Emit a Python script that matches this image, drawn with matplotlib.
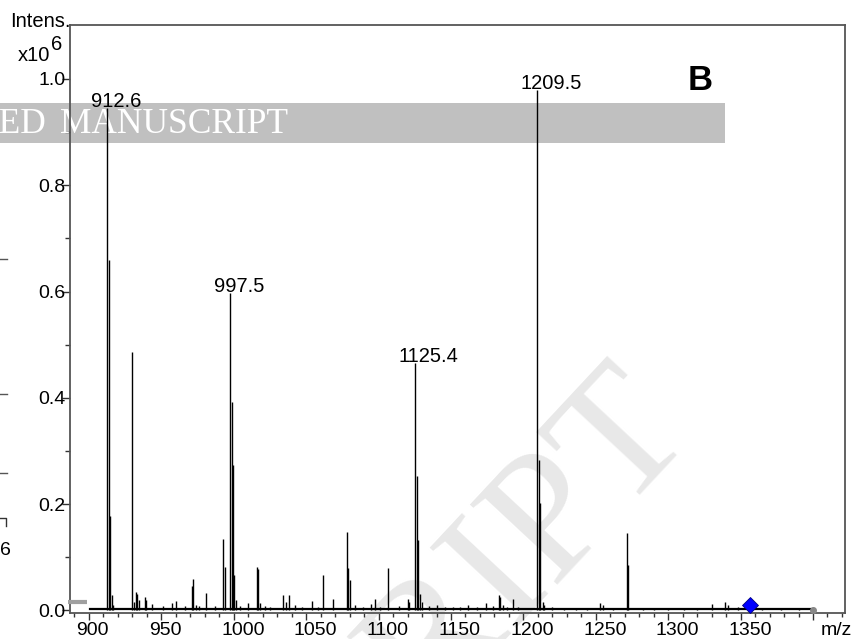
import matplotlib.pyplot as plt
from matplotlib.lines import Line2D
from matplotlib.patches import Rectangle

plt.rcParams['font.family'] = ['Liberation Sans', 'DejaVu Sans']

# peak list: m/z and intensity (x10^6)
peak_mz = [912.6, 913.6, 914.6, 915.6, 916.6,
           930.0, 931.0, 932.5, 933.5, 934.5, 938.7, 939.5, 943.5,
           951.0, 957.0, 960.0, 966.0,
           970.9, 972.0, 974.0, 976.0, 980.6, 987.0,
           992.8, 993.7, 997.5, 998.5, 999.5, 1000.5, 1001.5, 1004.0,
           1010.0, 1015.8, 1016.7, 1018.0, 1021.5, 1025.0,
           1034.2, 1036.0, 1038.0, 1042.3, 1047.0, 1053.8, 1058.0, 1061.8, 1068.7,
           1077.9, 1078.6, 1080.2, 1083.9, 1089.0, 1094.5, 1097.2, 1101.0,
           1106.7, 1114.0, 1120.0, 1121.2,
           1125.4, 1126.4, 1127.4, 1128.4, 1129.7, 1135.0, 1140.0, 1146.0,
           1151.6, 1156.0, 1161.9, 1168.0, 1174.1, 1179.2, 1183.1, 1184.0,
           1186.1, 1188.4, 1192.5, 1196.0,
           1209.5, 1210.5, 1211.5, 1213.3, 1214.5, 1220.0, 1228.0, 1236.0,
           1244.0, 1252.9, 1255.2, 1262.0, 1271.3, 1272.3, 1282.6, 1290.0,
           1300.0, 1311.0, 1320.0, 1330.0, 1339.2, 1341.0, 1348.4, 1365.0,
           1378.0, 1390.0]
peak_int = [0.945, 0.659, 0.177, 0.029, 0.010,
            0.487, 0.015, 0.035, 0.030, 0.020, 0.025, 0.020, 0.012,
            0.008, 0.014, 0.018, 0.008,
            0.045, 0.059, 0.010, 0.008, 0.033, 0.008,
            0.134, 0.082, 0.597, 0.392, 0.274, 0.067, 0.020, 0.008,
            0.014, 0.082, 0.077, 0.014, 0.008, 0.006,
            0.029, 0.016, 0.029, 0.010, 0.006, 0.018, 0.006, 0.067, 0.021,
            0.148, 0.080, 0.057, 0.010, 0.006, 0.012, 0.021, 0.006,
            0.079, 0.009, 0.022, 0.015,
            0.466, 0.252, 0.133, 0.031, 0.015, 0.008, 0.010, 0.006,
            0.006, 0.006, 0.010, 0.006, 0.013, 0.008, 0.028, 0.026,
            0.010, 0.007, 0.021, 0.006,
            0.979, 0.283, 0.202, 0.015, 0.010, 0.006, 0.005, 0.005,
            0.005, 0.013, 0.010, 0.005, 0.146, 0.086, 0.005, 0.004,
            0.004, 0.004, 0.005, 0.012, 0.016, 0.010, 0.006, 0.004,
            0.004, 0.004]

labelled_mz = [912.6, 997.5, 1125.4, 1209.5]
labelled_int = [0.945, 0.597, 0.466, 0.979]

precursor_mz = 1356.5
precursor_int = 0.010

x_major = [900, 950, 1000, 1050, 1100, 1150, 1200, 1250, 1300, 1350, 1400]
x_labels = ['900', '950', '1000', '1050', '1100', '1150', '1200', '1250',
            '1300', '1350', '']
y_major = [0.0, 0.2, 0.4, 0.6, 0.8, 1.0]

W, H = 859, 639
fig = plt.figure(figsize=(W / 100, H / 100), dpi=100)
ax = fig.add_axes([70 / W, 26 / H, 775 / W, 588 / H])
ax.set_xlim(886.9, 1422.1)
ax.set_ylim(-0.005, 1.1016)
ax.patch.set_alpha(0)

# diagonal watermark behind the plot
fig.text(665 / W, 1 - 405 / H, 'ACCEPTED MANUSCRIPT', rotation=47,
         rotation_mode='anchor', ha='right', va='center', fontsize=130,
         family='Liberation Serif', color='#e8e8e8', zorder=-5)

for s in ax.spines.values():
    s.set_color('#555555')
    s.set_linewidth(1.3)

# spectrum
ax.plot([901, 1400], [0.002, 0.002], color='black', lw=1.6, zorder=3)
ax.vlines(peak_mz, 0, peak_int, color='black', lw=1.0, zorder=3)
ax.plot([1400], [0.0], 'o', color='#888888', ms=4, zorder=4, clip_on=False)
ax.plot([885.5, 898.6], [0.016, 0.016], color='#a0a0a0', lw=3, clip_on=False,
        solid_capstyle='butt', zorder=4)
ax.plot([precursor_mz], [precursor_int], 'D', color='#0000ff', mec='#000080',
        mew=0.6, ms=8, zorder=5)

for m, v in zip(labelled_mz, labelled_int):
    ax.annotate(f'{m:.1f}', xy=(m, v), xytext=(-11.9, 0.8),
                textcoords='offset points', ha='left', va='baseline',
                fontsize=14.5, zorder=4)

# y axis
ax.set_yticks(y_major)
ax.set_yticklabels([f'{v:.1f}' for v in y_major])
ax.set_yticks([0.1, 0.3, 0.5, 0.7, 0.9], minor=True)
ax.tick_params(axis='y', which='major', length=6, width=1, pad=-3,
               labelsize=14, color='#333333')
ax.tick_params(axis='y', which='minor', length=3.6, width=1, color='#333333')

# x axis: ticks from the library, labels set left of each tick
ax.set_xticks(x_major)
ax.set_xticks(range(890, 1421, 10), minor=True)
ax.set_xticklabels([])
ax.tick_params(axis='x', which='major', length=5, width=1, color='#333333')
ax.tick_params(axis='x', which='minor', length=3, width=1, color='#333333')
for m, lab in zip(x_major, x_labels):
    ax.annotate(lab, xy=(m, 0), xycoords=('data', 'axes fraction'),
                xytext=(-9, -15.8), textcoords='offset points',
                ha='left', va='baseline', fontsize=14)
ax.annotate('m/z', xy=(1, 0), xycoords='axes fraction', xytext=(-6, -15.8),
            textcoords='offset points', ha='center', va='baseline',
            fontsize=14)

# axis title
fig.text(71 / W, 1 - 27 / H, 'Intens.', ha='right', va='baseline',
         fontsize=14.5)
fig.text(50 / W, 1 - 61 / H, 'x10', ha='right', va='baseline', fontsize=14.5)
fig.text(50.5 / W, 1 - 50 / H, '6', ha='left', va='baseline', fontsize=14.5)

ax.text(700 / W, 1 - 81 / H, 'B', transform=fig.transFigure, ha='center',
        va='center', fontsize=25, fontweight='bold')

# grey banner across the top, under the spectrum lines
ax.add_patch(Rectangle((0, 1 - 143 / H), 725 / W, 40 / H,
                       transform=fig.transFigure, facecolor='#c0c0c0',
                       edgecolor='none', zorder=1, clip_on=False))
ax.text(46 / W, 1 - 133 / H, 'ACCEPTED', transform=fig.transFigure,
        ha='right', va='baseline', fontsize=25.5, family='Liberation Serif',
        color='white', zorder=2, clip_on=False)
ax.text(288 / W, 1 - 133 / H, 'MANUSCRIPT', transform=fig.transFigure,
        ha='right', va='baseline', fontsize=25.5, family='Liberation Serif',
        color='white', zorder=2, clip_on=False)

# edge of the neighbouring panel
for yy in [259, 394, 473]:
    fig.add_artist(Line2D([0, 7 / W], [1 - yy / H] * 2, color='#555555', lw=1))
fig.add_artist(Line2D([0, 6 / W, 6 / W], [1 - 518 / H, 1 - 518 / H, 1 - 526 / H],
                      color='#333333', lw=1))
fig.text(0, 1 - 555 / H, '6', ha='left', va='baseline', fontsize=14)

fig.savefig('out.png', dpi=100)
